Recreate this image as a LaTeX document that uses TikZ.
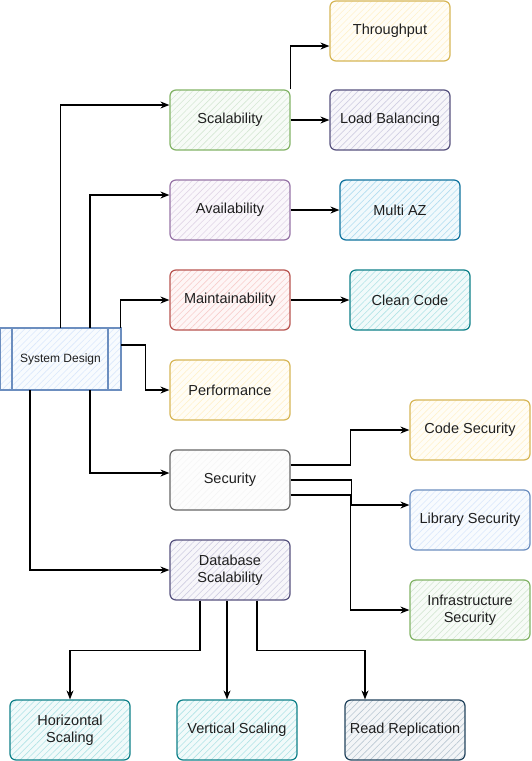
\documentclass[tikz,border=0pt]{standalone}
\usepackage{fontspec}
\setmainfont{Liberation Sans}
\usetikzlibrary{arrows.meta,patterns.meta}
\definecolor{bF}{HTML}{DAE8FC}\definecolor{bS}{HTML}{6C8EBF}
\definecolor{gF}{HTML}{D5E8D4}\definecolor{gS}{HTML}{82B366}
\definecolor{pF}{HTML}{E1D5E7}\definecolor{pS}{HTML}{9673A6}
\definecolor{rF}{HTML}{F8CECC}\definecolor{rS}{HTML}{B85450}
\definecolor{yF}{HTML}{FFF2CC}\definecolor{yS}{HTML}{D6B656}
\definecolor{kF}{HTML}{F5F5F5}\definecolor{kS}{HTML}{666666}
\definecolor{dF}{HTML}{D0CEE2}\definecolor{dS}{HTML}{56517E}
\definecolor{lF}{HTML}{B1DDF0}\definecolor{lS}{HTML}{10739E}
\definecolor{tF}{HTML}{B0E3E6}\definecolor{tS}{HTML}{0E8088}
\definecolor{sF}{HTML}{BAC8D3}\definecolor{sS}{HTML}{23445D}
\tikzset{
  box/.style 2 args={draw=#2, line width=1.2pt, rounded corners=6pt,
    preaction={fill=#1!18!white},
    pattern={Lines[angle=45,distance=4.5pt,line width=0.6pt]}, pattern color=#1,
    minimum width=120pt, minimum height=60pt, align=center,
    font=\fontsize{14.5}{17}\selectfont, text=black!88},
  arr/.style={draw=black, line width=1.1pt, -{Stealth[length=9pt,width=7pt]}},
}
\begin{document}
\begin{tikzpicture}[x=1pt,y=-1pt]
\useasboundingbox (0,0) rectangle (531,761);
% nodes
\node[draw=bS, line width=1.2pt, preaction={fill=bF!18!white},
  pattern={Lines[angle=45,distance=4.5pt,line width=0.6pt]}, pattern color=bF,
  minimum width=121pt, minimum height=62pt, font=\fontsize{12}{14}\selectfont, text=black!88,
  path picture={\draw[bS, line width=1.2pt]
      ([xshift=12pt]path picture bounding box.north west) -- ([xshift=12pt]path picture bounding box.south west)
      ([xshift=-13pt]path picture bounding box.north east) -- ([xshift=-13pt]path picture bounding box.south east);}]
  (sd) at (60.5,359) {System Design};
\node[box={gF}{gS}] (scal) at (230,120) {Scalability};
\node[box={pF}{pS}] (avail) at (230,210) {Availability};
\node[box={rF}{rS}] (maint) at (230,300) {Maintainability};
\node[box={yF}{yS}] (perf) at (230,390) {Performance};
\node[box={kF}{kS}] (sec) at (230,480) {Security};
\node[box={dF}{dS}] (db) at (230,570) {Database\\Scalability};
\node[box={yF}{yS}] (thr) at (390,31) {Throughput};
\node[box={dF}{dS}] (lb) at (390,120) {Load Balancing};
\node[box={lF}{lS}] (maz) at (400,210) {Multi AZ};
\node[box={tF}{tS}] (cc) at (410,300) {Clean Code};
\node[box={yF}{yS}] (cs) at (470,430) {Code Security};
\node[box={bF}{bS}] (ls) at (470,520) {Library Security};
\node[box={gF}{gS}] (is) at (470,610) {Infrastructure\\Security};
\node[box={tF}{tS}] (hs) at (70,730) {Horizontal\\Scaling};
\node[box={tF}{tS}] (vs) at (237,730) {Vertical Scaling};
\node[box={sF}{sS}] (rr) at (405,730) {Read Replication};
% connectors
\draw[arr] (sd.north) |- ([yshift=15pt]scal.west);
\draw[arr] ([xshift=29.5pt]sd.north) |- ([yshift=15pt]avail.west);
\draw[arr] ([xshift=-1pt]sd.north east) |- (maint.west);
\draw[arr] ([yshift=14pt]sd.east) -- ++(24,0) |- (perf.west);
\draw[arr] ([xshift=29.5pt]sd.south) |- ([yshift=7pt]sec.west);
\draw[arr] ([xshift=-30.5pt]sd.south) |- (db.west);
\draw[arr] (scal.north east) |- ([yshift=-15pt]thr.west);
\draw[arr] (scal.east) -- (lb.west);
\draw[arr] (avail.east) -- (maz.west);
\draw[arr] (maint.east) -- (cc.west);
\draw[arr] ([yshift=15pt]sec.east) -- ++(60,0) |- (cs.west);
\draw[arr] (sec.east) -- ++(61,0) |- ([yshift=15pt]ls.west);
\draw[arr] ([yshift=-15pt]sec.east) -- ++(60,0) |- (is.west);
\draw[arr] ([xshift=-30pt]db.south) -- ++(0,50) -| (hs.north);
\draw[arr] ([xshift=-3pt]db.south) -- ([xshift=-10pt]vs.north);
\draw[arr] ([xshift=27pt]db.south) -- ++(0,50) -| ([xshift=-40pt]rr.north);
\end{tikzpicture}
\end{document}
